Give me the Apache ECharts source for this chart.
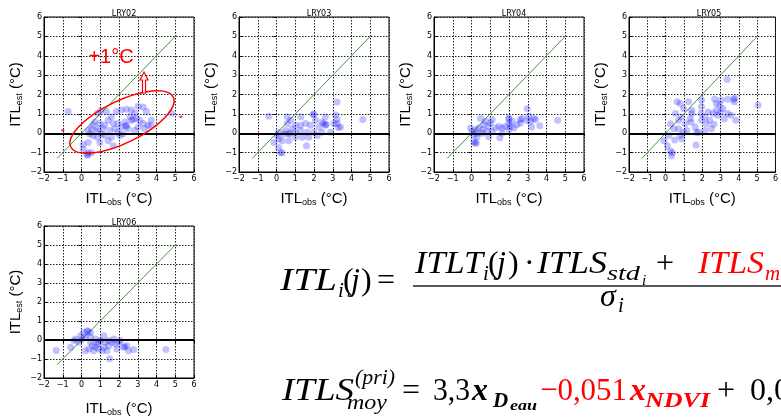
<!DOCTYPE html>
<html><head><meta charset="utf-8">
<script src="https://cdn.jsdelivr.net/npm/echarts@6/dist/echarts.min.js"></script>
<style>html,body{margin:0;padding:0;background:#fff}#c{width:781px;height:418px}</style>
</head><body><div id="c"></div>
<script>
// ---------- data ----------
const plotTitles = ['LRY02', 'LRY03', 'LRY04', 'LRY05', 'LRY06'];
const axisMin = -2, axisMax = 6, axisStep = 1;
const diagLine = [[-1.3, -1.3], [5.05, 5.05]];
const redMarks02 = [[-1.0, 0.15], [5.3, 0.85]];

const lry02 = [[-0.71,1.12],[0.85,1.03],[1.03,1.17],[1.33,1.12],[0.71,0.58],[0.98,0.5],[0.53,0.23],[0.36,0.14],
[0.89,0.23],[1.15,0.23],[1.07,-0.04],[0.62,-0.12],[0.85,-0.21],[1.24,-0.12],[1.42,-0.39],[0.98,-0.48],[0.36,-0.48],
[0.09,-0.57],[0.09,-0.83],[0.36,-1.01],[0.53,-1.01],[0.32,-1.13],[0.3,-1.1],[1.6,0.85],[1.86,1.12],[2.13,1.2],[2.4,1.24],
[2.66,1.2],[3.02,1.38],[3.29,1.35],[3.46,1.12],[2.84,1.03],[2.58,0.85],[2.75,0.71],[2.31,0.58],[2.4,0.41],[2.13,0.32],
[1.95,0.5],[1.69,0.5],[1.78,0.23],[1.51,0.14],[1.95,0.05],[2.22,-0.04],[1.6,-0.21],[1.69,-0.65],[2.66,0.67],[2.93,0.76],
[3.11,0.67],[3.29,0.5],[3.55,0.41],[3.73,0.67],[3.37,0.23],[3.02,0.32],[2.49,0.23],[2.84,0.14],[2.04,-0.12],[4.8,1.03],
[1.24,0.41],[1.42,0.67],[0.62,0.41],[0.44,-0.04],[3.7,0.4],[2.35,0.35],[0.8,0.1]];
const lry03 = [[-0.41,0.88],[3.23,1.61],[4.6,0.71],[1.99,0.99],[1.95,0.95],[2.08,0.67],[2.61,0.85],[3.16,0.94],[3.23,0.71],
[3.06,0.5],[3.41,0.32],[2.61,0.41],[2.65,0.45],[2.26,0.32],[1.81,0.41],[1.55,0.5],[1.28,0.41],[1.01,0.41],[0.57,0.85],
[0.75,0.67],[0.57,0.5],[0.83,0.23],[0.48,0.14],[0.39,-0.04],[0.66,-0.04],[0.7,0.0],[1.01,0.05],[1.28,0.14],[1.63,0.05],
[1.99,0.05],[2.43,0.05],[2.88,0.05],[2.17,-0.12],[1.72,-0.21],[1.37,-0.21],[0.12,0.05],[0.04,-0.12],[0.12,-0.3],
[0.3,-0.39],[-0.14,-0.48],[0.66,-0.39],[0.12,-0.74],[0.3,-1.01],[0.21,-1.01],[1.6,-0.65],[1.01,-0.21],[2.52,0.5],
[3.23,0.5],[2.43,0.58],[1.3,0.85],[3.3,0.3]];
const lry04 = [[2.97,1.27],[4.6,0.67],[3.64,0.39],[3.32,0.76],[3.15,0.62],[3.2,0.32],[2.97,0.65],[2.7,0.76],[2.61,0.53],
[2.43,0.44],[2.17,0.62],[1.99,0.8],[2.0,0.72],[2.08,0.35],[2.26,0.27],[1.81,0.35],[1.63,0.27],[1.46,0.35],[1.28,0.27],
[1.1,0.71],[0.75,0.62],[0.48,0.76],[0.66,0.44],[0.92,0.35],[0.39,0.27],[0.21,0.18],[0.04,0.09],[-0.05,0.27],[0.12,-0.09],
[0.3,-0.18],[0.57,0.0],[0.83,0.09],[1.1,0.09],[0.92,-0.18],[0.21,-0.53],[0.25,-0.48],[0.12,-0.44],[1.51,-0.23],[1.63,0.0],
[1.99,0.18],[2.61,0.71],[3.05,0.88],[3.41,0.71],[1.01,0.53],[0.6,0.2],[0.3,0.0],[2.0,0.5]];
const lry05 = [[3.36,2.77],[5.05,1.46],[0.63,1.63],[0.8,1.54],[0.98,1.28],[1.25,1.63],[1.96,1.72],[2.68,1.77],[3.04,1.72],
[3.39,1.75],[3.71,1.75],[3.78,1.82],[2.95,1.46],[3.13,1.28],[2.77,1.19],[2.59,1.02],[2.32,1.1],[2.14,0.84],[1.96,0.67],
[2.41,0.67],[2.23,0.49],[2.5,0.23],[2.64,0.46],[2.14,0.14],[1.79,0.05],[1.61,0.32],[1.93,1.02],[1.43,1.02],[1.34,0.75],
[1.39,0.58],[1.07,0.49],[0.71,0.67],[0.54,1.02],[0.86,0.84],[0.27,0.49],[0.45,0.23],[0.71,0.23],[0.98,0.05],[1.16,0.14],
[0.8,-0.12],[0.89,-0.3],[0.5,-0.35],[0.18,-0.12],[-0.09,-0.39],[0.09,-0.65],[0.27,-0.91],[0.36,-1.0],[0.32,-1.18],
[1.66,-0.6],[3.57,0.93],[3.84,0.67],[3.21,0.75],[2.86,0.93],[3.39,1.02],[3.75,1.63],[2.77,1.54],[1.7,0.05],[1.96,1.37],
[1.43,1.19],[3.0,1.1]];
const lry06 = [[-1.35,-0.55],[-0.58,-0.38],[4.5,-0.5],[0.3,0.49],[0.35,0.45],[0.12,0.4],[-0.05,0.23],[-0.32,0.05],
[-0.4,-0.03],[0.04,0.05],[0.21,0.14],[0.48,0.14],[0.74,0.05],[1.01,-0.03],[1.19,0.23],[0.83,-0.21],[0.57,-0.3],
[0.39,-0.47],[0.21,-0.56],[0.65,-0.56],[0.92,-0.47],[1.19,-0.38],[1.45,-0.3],[1.63,-0.12],[1.81,-0.21],[2.0,-0.12],
[2.07,-0.03],[1.72,0.05],[1.45,-0.03],[2.25,-0.38],[2.3,-0.35],[2.42,-0.3],[2.78,-0.5],[2.51,-0.56],[1.89,-0.47],
[1.5,-0.99],[1.27,-0.12],[1.1,-0.56],[0.48,-0.12],[-0.14,-0.12],[0.74,-0.38],[1.36,-0.56],[0.48,0.4],[0.9,-0.1]];
const plotData = [lry02, lry03, lry04, lry05, lry06];

// ---------- layout ----------
const gridPos = [[44,17],[239,17],[434,17],[629,17],[44,226]];
const xNameGap = [19, 19, 19, 19, 23];
const GW = 150, GH = 155;
const SANS = 'Liberation Sans', TICKF = 'DejaVu Sans', SERIF = 'Liberation Serif';
const fmt = v => String(v).replace('-', '\u2212');
const richName = {
  a: {fontSize: 15, fontFamily: SANS, color: '#000', verticalAlign: 'bottom'},
  b: {fontSize: 9, fontFamily: SANS, color: '#000', verticalAlign: 'bottom', padding: [0,0,-1,0]}
};

const grid = [], xAxis = [], yAxis = [], series = [], title = [];
gridPos.forEach((p, i) => {
  grid.push({left: p[0], top: p[1], width: GW, height: GH, show: true, borderColor: '#000', borderWidth: 1, backgroundColor: '#fff'});
  const common = {min: axisMin, max: axisMax, interval: axisStep, gridIndex: i};
  xAxis.push(Object.assign({}, common, {type: 'value', position: 'bottom',
    axisLine: {onZero: false, lineStyle: {color: '#000', width: 1}},
    axisTick: {inside: true, length: 3, lineStyle: {color: '#000'}},
    axisLabel: {formatter: fmt, fontSize: 8, fontFamily: TICKF, color: '#000', margin: 3},
    splitLine: {show: true, lineStyle: {color: '#222', type: [1.5, 1.5], width: 1}},
    name: '{a|ITL}{b|obs}{a| (°C)}', nameLocation: 'middle', nameGap: xNameGap[i],
    nameTextStyle: {rich: richName, verticalAlign: 'top'}}));
  yAxis.push(Object.assign({}, common, {type: 'value', position: 'left',
    axisLine: {onZero: false, lineStyle: {color: '#000', width: 1}},
    axisTick: {inside: true, length: 3, lineStyle: {color: '#000'}},
    axisLabel: {formatter: fmt, fontSize: 8, fontFamily: TICKF, color: '#000', margin: 2},
    splitLine: {show: true, lineStyle: {color: '#222', type: [1.5, 1.5], width: 1}},
    name: '{a|ITL}{b|est}{a| (°C)}', nameLocation: 'middle', nameGap: 21, nameRotate: 90,
    nameTextStyle: {rich: richName}}));
  xAxis.push(Object.assign({}, common, {type: 'value', position: 'top',
    axisLine: {show: false}, axisLabel: {show: false}, splitLine: {show: false},
    axisTick: {inside: true, length: 3, lineStyle: {color: '#000'}}}));
  yAxis.push(Object.assign({}, common, {type: 'value', position: 'right',
    axisLine: {show: false}, axisLabel: {show: false}, splitLine: {show: false},
    axisTick: {inside: true, length: 3, lineStyle: {color: '#000'}}}));
  title.push({text: plotTitles[i], left: p[0] + GW / 2, top: p[1] - 12, textAlign: 'center',
    textStyle: {fontSize: 8, fontWeight: 'normal', fontFamily: TICKF, color: '#000'}});
  const xi = 2 * i, yi = 2 * i;
  series.push({type: 'line', xAxisIndex: xi, yAxisIndex: yi, data: diagLine, symbol: 'none',
    lineStyle: {color: '#3c9b3c', width: 1}, z: 2, silent: true});
  series.push({type: 'scatter', xAxisIndex: xi, yAxisIndex: yi, data: plotData[i], symbolSize: 7,
    itemStyle: {color: 'rgba(0,0,255,0.3)', borderWidth: 0}, z: 3,
    markLine: {silent: true, symbol: 'none', label: {show: false}, animation: false,
      lineStyle: {color: '#000', width: 2, type: 'solid'}, data: [{yAxis: 0}]}});
});
series.push({type: 'scatter', xAxisIndex: 0, yAxisIndex: 0, data: redMarks02, symbol: 'rect',
  symbolSize: [3, 2], itemStyle: {color: '#ff0000'}, z: 4});

// ---------- formula text ----------
const mctx = document.createElement('canvas').getContext('2d');
function seg(t, x, base, size, style, color, targetW) {
  const it = style.indexOf('i') >= 0, bd = style.indexOf('b') >= 0;
  const fs = it ? 'italic' : 'normal', fw = bd ? 'bold' : 'normal';
  let sx = 1;
  if (targetW) {
    mctx.font = fs + ' ' + fw + ' ' + size + 'px "' + SERIF + '"';
    const w = mctx.measureText(t).width;
    if (w > 0) sx = targetW / w;
  }
  return {type: 'text', x: x, y: base - 0.32 * size, scaleX: sx, z: 20,
    style: {text: t, fill: color || '#000', fontFamily: SERIF, fontSize: size,
      fontStyle: fs, fontWeight: fw, align: 'left', verticalAlign: 'middle'}};
}
const R = '#ff0000';
const M = 32, S = 21, SS = 15;
const formula = [
  seg('ITL', 280, 292, M, 'i', null, 57), seg('i', 338, 298, S, 'i'), seg('(', 343, 292, M, 'n'),
  seg('j', 351, 292, M, 'i'), seg(')', 361, 292, M, 'n'), seg('=', 377, 292, M, 'n'),
  seg('ITLT', 415, 275, M, 'i', null, 68), seg('i', 483, 281, S, 'i'), seg('(', 488, 275, M, 'n'),
  seg('j', 497, 275, M, 'i'), seg(')', 508, 275, M, 'n'), seg('·', 524, 275, M, 'n'),
  seg('ITLS', 537, 275, M, 'i', null, 70), seg('std', 607, 281, S, 'i', null, 33), seg('i', 642, 286, SS, 'i'),
  seg('+', 656, 275, M, 'n'), seg('ITLS', 698, 275, M, 'i', R, 66), seg('m', 765, 281, S, 'i', R),
  seg('σ', 600, 308, M, 'i'), seg('i', 618, 313, S, 'i'),
  seg('ITLS', 282, 402, M, 'i', null, 72), seg('(pri)', 355, 385, S, 'i', null, 40), seg('moy', 347, 410, S, 'i', null, 40),
  seg('=', 402, 402, M, 'n'), seg('3,3', 433, 402, M, 'n', null, 37), seg('x', 472, 402, M, 'bi'),
  seg('D', 493, 408, S, 'bi'), seg('eau', 510, 411, SS, 'bi', null, 27),
  seg('\u22120,051', 540, 402, M, 'n', R, 87), seg('x', 630, 402, M, 'bi', R), seg('NDVI', 645, 408, S, 'bi', R, 65),
  seg('+', 717, 402, M, 'n'), seg('0,0', 750, 402, M, 'n'),
  {type: 'line', z: 20, shape: {x1: 413, y1: 286, x2: 781, y2: 286}, style: {stroke: '#222', lineWidth: 1.5}}
];

// ---------- LRY02 annotation ----------
const annot = [
  {type: 'ellipse', x: 122, y: 122, rotation: 26 * Math.PI / 180, z: 30,
    shape: {cx: 0, cy: 0, rx: 57, ry: 21}, style: {fill: 'none', stroke: '#ff0000', lineWidth: 1.5}},
  {type: 'polygon', z: 30, shape: {points: [[142.5,93],[142.5,80],[140,80],[144,72],[148,80],[145.5,80],[145.5,93]]},
    style: {fill: '#fff', stroke: '#ff0000', lineWidth: 1.2}},
  {type: 'text', x: 111, y: 57, z: 30, style: {text: '+1°C', fill: '#ff0000', fontFamily: SANS, fontSize: 20,
    align: 'center', verticalAlign: 'middle'}}
];

const chart = echarts.init(document.getElementById('c'), null, {renderer: 'canvas'});
chart.setOption({animation: false, backgroundColor: '#fff', title, grid, xAxis, yAxis, series,
  graphic: formula.concat(annot)});
</script></body></html>
